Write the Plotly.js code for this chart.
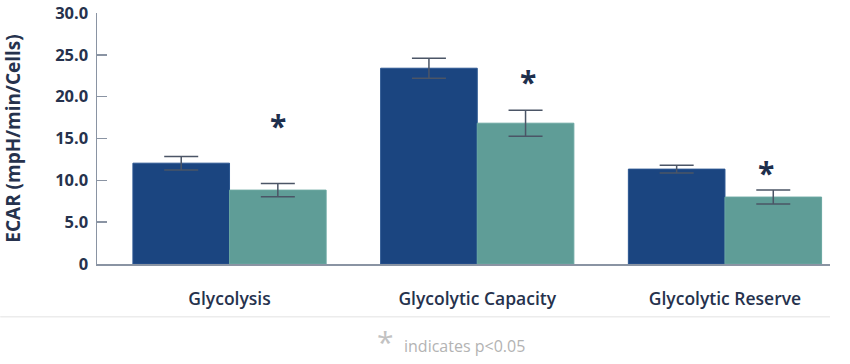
<!DOCTYPE html>
<html>
<head>
<meta charset="utf-8">
<script src="https://cdn.plot.ly/plotly-3.0.1.min.js"></script>
<style>
  html, body { margin: 0; padding: 0; background: #ffffff; }
  #chart { width: 850px; height: 364px; }
</style>
</head>
<body>
<div id="chart"></div>
<script>
// ---- Data ----
const categories = ["Glycolysis", "Glycolytic Capacity", "Glycolytic Reserve"];
const controlValues = [12.05, 23.4, 11.34];
const controlErrors = [0.8, 1.2, 0.47];
const treatedValues = [8.83, 16.83, 8.0];
const treatedErrors = [0.78, 1.55, 0.83];
const significanceMarkY = [16.9, 22.2, 11.3];
const yTickValues = [0, 5, 10, 15, 20, 25, 30];
const yTickLabels = ["0", "5.0", "10.0", "15.0", "20.0", "25.0", "30.0"];
const footnoteText = "indicates p<0.05";

const navy = "#1b4580";
const teal = "#5f9d97";
const textDark = "#26324d";
const axisGray = "#8a94a3";
const errColor = "#4b5566";

const xIdx = categories.map((_, i) => i);
const markShift = [0, 2, -7];

const traces = [
  {
    type: "bar",
    x: xIdx,
    y: controlValues,
    marker: { color: navy, line: { color: "#2a5590", width: 1 } },
    error_y: { type: "data", array: controlErrors, visible: true, color: errColor, thickness: 1.5, width: 17 },
    hoverinfo: "none"
  },
  {
    type: "bar",
    x: xIdx,
    y: treatedValues,
    marker: { color: teal, line: { color: "#6aa7a1", width: 1 } },
    error_y: { type: "data", array: treatedErrors, visible: true, color: errColor, thickness: 1.5, width: 17 },
    hoverinfo: "none"
  }
];

const annotations = significanceMarkY.map((yv, i) => ({
  x: i + 0.195, y: yv, xref: "x", yref: "y",
  text: "*", showarrow: false,
  font: { family: "Open Sans", size: 30, color: "#1e2f4d", weight: 700 },
  xanchor: "center", yanchor: "middle", yshift: -3, xshift: markShift[i]
}));

// footnote: big asterisk + text
annotations.push({
  x: 0.394, y: -0.221, xref: "paper", yref: "paper",
  text: "*", showarrow: false,
  font: { family: "Open Sans", size: 30, color: "#c2c2c2" },
  height: 28, valign: "top",
  xanchor: "center", yanchor: "top"
});
annotations.push({
  x: 0.5007, y: -0.325, xref: "paper", yref: "paper",
  text: footnoteText, showarrow: false,
  font: { family: "Open Sans", size: 16, color: "#b3b3b3" },
  xanchor: "center", yanchor: "middle"
});

const layout = {
  width: 850,
  height: 364,
  margin: { l: 97, r: 20, t: 13, b: 100 },
  paper_bgcolor: "#ffffff",
  plot_bgcolor: "#ffffff",
  showlegend: false,
  barmode: "group",
  bargap: 0.22,
  bargroupgap: 0,
  font: { family: "Open Sans", color: textDark },
  xaxis: {
    range: [-0.535, 2.424],
    tickvals: xIdx,
    ticktext: categories,
    showgrid: false,
    zeroline: false,
    showline: true,
    linecolor: axisGray,
    linewidth: 1.5,
    ticks: "",
    ticklabelstandoff: 18,
    tickfont: { family: "Open Sans", size: 17.5, color: textDark, weight: 600 },
    fixedrange: true
  },
  yaxis: {
    range: [0, 30],
    tickvals: yTickValues,
    ticktext: yTickLabels,
    showgrid: false,
    zeroline: false,
    showline: true,
    linecolor: axisGray,
    linewidth: 1.5,
    ticks: "inside",
    ticklen: 10,
    tickwidth: 1.5,
    tickcolor: axisGray,
    ticklabelstandoff: 4,
    tickfont: { family: "Open Sans", size: 16.5, color: textDark, weight: 700 },
    title: { text: "ECAR (mpH/min/Cells)", standoff: 29, font: { family: "Open Sans", size: 19, color: textDark, weight: 700 } },
    automargin: false,
    fixedrange: true
  },
  shapes: [
    {
      type: "line", xref: "paper", yref: "paper",
      x0: -0.132, x1: 1.0, y0: -0.21, y1: -0.21,
      line: { color: "#ececec", width: 1.5 }
    }
  ],
  annotations: annotations
};

Plotly.newPlot("chart", traces, layout, { displayModeBar: false, staticPlot: true });
</script>
</body>
</html>
